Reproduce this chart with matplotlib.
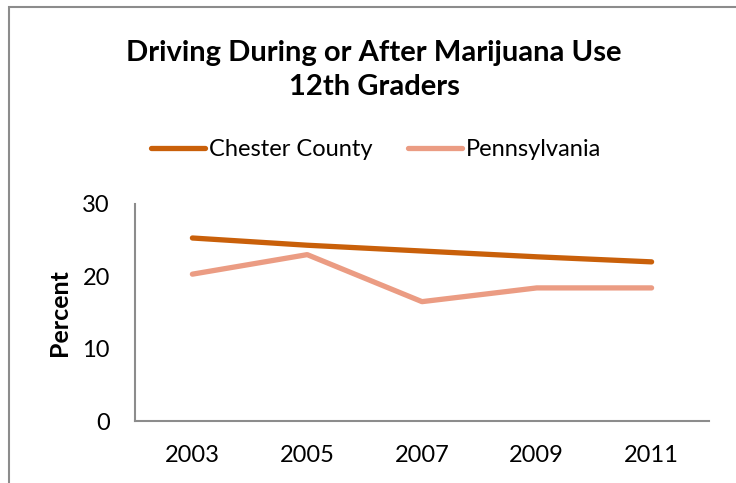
import matplotlib.pyplot as plt
from matplotlib.patches import Rectangle
import numpy as np

years = ["2003", "2005", "2007", "2009", "2011"]
chester = [25.3, 24.3, 23.5, 22.7, 22.0]
pennsylvania = [20.3, 23.0, 16.5, 18.4, 18.4]

plt.rcParams["font.family"] = ["Lato", "DejaVu Sans"]

fig = plt.figure(figsize=(7.36, 4.83), dpi=100, facecolor="white")

# chart frame (only left/top edges show in the crop)
fig.patches.append(Rectangle((9 / 736, -0.1), 1.0, 1 - 7 / 483 + 0.1, transform=fig.transFigure,
                             fill=False, edgecolor="#8c8c8c", linewidth=1.5))

ax = fig.add_axes([135 / 736, 1 - 421 / 483, (709 - 135) / 736, (421 - 204) / 483])
r = np.arange(len(years))

ax.plot(r, chester, color="#C9600A", linewidth=3.8, solid_capstyle="round", label="Chester County")
ax.plot(r, pennsylvania, color="#EB9C83", linewidth=3.8, solid_capstyle="round", label="Pennsylvania")

ax.set_xlim(-0.5, len(years) - 0.5)
ax.set_ylim(0, 30)
ax.set_yticks([0, 10, 20, 30])
ax.set_xticks(r)
ax.set_xticklabels(years)
ax.tick_params(length=0, labelsize=17)
ax.tick_params(axis="y", pad=18)
ax.tick_params(axis="x", pad=17)
for s in ["top", "right"]:
    ax.spines[s].set_visible(False)
for s in ["left", "bottom"]:
    ax.spines[s].set_color("#8c8c8c")
    ax.spines[s].set_linewidth(1.5)

ax.set_ylabel("Percent", fontsize=18, fontweight="bold", labelpad=8)

fig.text(374 / 736, 1 - 70 / 483, "Driving During or After Marijuana Use\n12th Graders",
         ha="center", va="center", fontsize=21, fontweight="bold", linespacing=1.42)

ax.legend(loc="center", bbox_to_anchor=(376 / 736, 1 - 150 / 483), bbox_transform=fig.transFigure,
          ncol=2, frameon=False, fontsize=17, handlelength=2.3, handletextpad=0.17, columnspacing=1.5)

fig.savefig("out.png", dpi=100, facecolor="white")
